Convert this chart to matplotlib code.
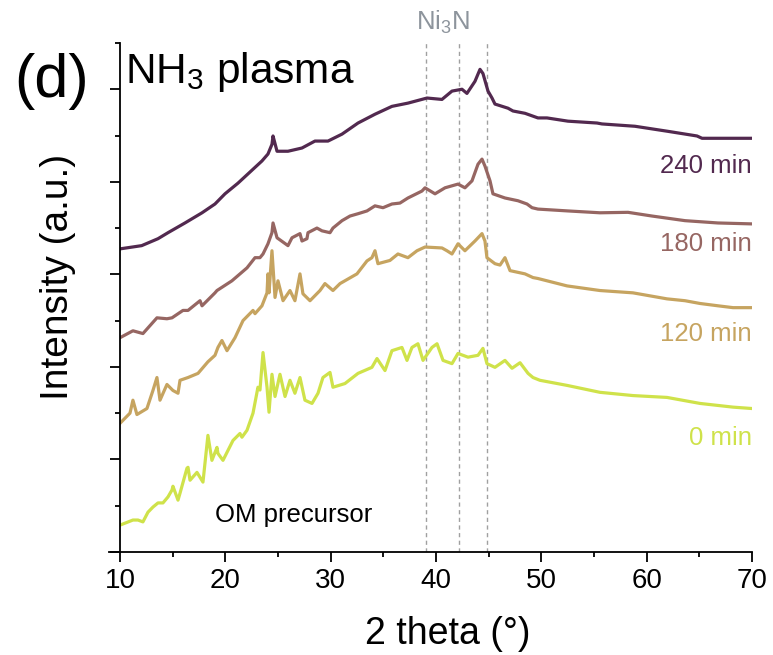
import numpy as np
import matplotlib
matplotlib.use("Agg")
import matplotlib.pyplot as plt
from matplotlib.ticker import MultipleLocator

plt.rcParams["font.family"] = ["Liberation Sans", "DejaVu Sans"]
plt.rcParams["mathtext.fontset"] = "custom"
plt.rcParams["mathtext.rm"] = "Liberation Sans"

# ── data (2 theta in deg, stacked intensity in a.u.) ──
theta_240 = [10.0, 12.06, 13.61, 14.56, 16.17, 17.79, 19.02, 19.97, 21.20, 22.15,
             23.48, 24.05, 24.43, 24.53, 24.91, 25.95, 27.28, 28.51, 29.75, 31.08,
             32.60, 34.21, 35.82, 37.34, 39.15, 40.57, 41.52, 42.47, 42.94, 43.70,
             44.18, 44.46, 44.94, 45.32, 45.60, 46.84, 47.31, 48.45, 49.68, 50.54,
             52.53, 55.29, 55.76, 58.89, 60.03, 62.03, 64.78, 65.26, 68.39, 70.0]
int_240 = [65.5, 66.2, 67.7, 69.0, 71.1, 73.3, 75.2, 77.4, 79.7, 81.7,
           84.5, 86.0, 88.1, 89.9, 86.6, 86.6, 87.3, 88.8, 88.8, 90.3,
           92.7, 94.6, 96.3, 97.0, 98.1, 97.8, 99.6, 100.0, 99.1, 101.7,
           104.3, 103.4, 99.6, 98.1, 96.8, 95.9, 95.3, 94.8, 93.8, 93.8,
           93.1, 92.7, 92.5, 92.0, 91.6, 90.9, 89.9, 89.4, 89.4, 89.4]

theta_180 = [10.0, 11.23, 12.18, 13.51, 14.46, 14.94, 15.98, 16.46, 17.60, 17.79,
             19.02, 19.21, 20.63, 22.06, 22.82, 23.29, 23.58, 24.05, 24.43, 24.53,
             24.91, 25.95, 26.33, 27.09, 27.28, 27.75, 27.85, 28.70, 29.18, 29.94,
             30.22, 31.08, 31.84, 32.60, 33.45, 34.21, 34.97, 35.82, 36.58, 37.34,
             38.67, 38.96, 39.91, 40.86, 42.09, 42.75, 43.42, 43.99, 44.37, 44.65,
             45.13, 45.41, 46.55, 47.79, 48.64, 49.12, 49.68, 52.53, 55.57, 58.23,
             60.51, 63.64, 66.77, 70.0]
int_180 = [46.3, 47.8, 47.2, 50.6, 50.4, 50.6, 52.2, 52.2, 54.3, 53.2,
           56.0, 56.5, 58.6, 61.4, 63.6, 63.6, 64.4, 66.6, 69.0, 71.1,
           67.9, 66.2, 67.9, 68.8, 67.2, 67.7, 69.0, 70.0, 69.4, 69.0,
           70.0, 71.6, 72.6, 73.1, 73.7, 74.8, 74.4, 75.2, 75.4, 76.5,
           78.0, 78.7, 77.4, 78.7, 79.5, 78.7, 80.2, 83.8, 84.9, 83.4,
           80.2, 77.4, 76.5, 75.9, 75.2, 74.4, 74.1, 73.7, 73.3, 73.4,
           72.6, 71.6, 71.1, 70.9]

theta_120 = [10.0, 10.95, 11.23, 11.61, 12.56, 13.13, 13.51, 13.80, 14.46, 15.03,
             15.51, 15.70, 16.46, 17.41, 18.35, 19.02, 19.30, 19.68, 20.16, 20.92,
             21.68, 22.63, 22.82, 23.48, 23.96, 24.05, 24.15, 24.43, 24.72, 25.00,
             25.48, 26.14, 26.61, 27.09, 27.37, 28.04, 28.99, 29.46, 30.22, 30.89,
             32.50, 33.45, 33.92, 34.21, 34.49, 35.63, 36.39, 37.34, 38.20, 38.96,
             40.57, 41.04, 41.52, 42.09, 42.75, 43.70, 44.37, 44.65, 44.84, 45.60,
             46.08, 46.55, 47.03, 48.45, 49.21, 49.68, 52.44, 55.57, 58.70, 61.93,
             63.64, 65.07, 66.77, 68.20, 70.0]
int_120 = [27.8, 30.0, 32.8, 29.7, 31.0, 34.9, 37.7, 32.8, 36.2, 34.9,
           34.3, 37.1, 37.7, 38.6, 41.1, 42.5, 44.2, 45.7, 43.5, 46.3,
           50.0, 52.2, 51.5, 53.2, 56.0, 60.1, 56.0, 65.1, 55.0, 58.6,
           54.3, 56.5, 54.3, 60.1, 55.8, 54.3, 56.5, 58.0, 56.5, 58.0,
           60.1, 62.9, 63.6, 65.1, 62.3, 63.0, 64.4, 63.6, 65.1, 65.9,
           65.7, 65.1, 64.4, 66.6, 65.1, 67.2, 68.8, 67.2, 63.6, 62.3,
           62.0, 63.6, 60.8, 60.1, 59.3, 59.1, 57.5, 56.5, 56.0, 54.7,
           54.3, 53.7, 53.2, 52.8, 52.8]

theta_0 = [10.0, 11.23, 11.71, 12.18, 12.66, 13.13, 13.61, 14.08, 14.56, 14.94,
           15.03, 15.51, 15.70, 16.36, 16.46, 16.65, 17.31, 17.88, 18.35, 18.73,
           19.21, 19.30, 19.78, 20.73, 21.39, 21.58, 22.06, 22.63, 23.10, 23.29,
           23.58, 23.96, 24.15, 24.43, 24.72, 25.19, 25.67, 26.14, 26.61, 27.09,
           27.56, 28.23, 28.80, 29.27, 29.94, 30.22, 31.36, 32.60, 33.92, 34.40,
           35.16, 35.82, 36.77, 37.25, 37.72, 38.29, 38.77, 39.62, 40.10, 40.67,
           41.52, 42.09, 43.04, 43.99, 44.46, 44.84, 45.60, 46.55, 47.22, 47.98,
           48.74, 49.21, 49.87, 52.44, 55.57, 58.70, 61.93, 65.07, 68.20, 70.0]
int_0 = [5.8, 6.9, 6.9, 6.5, 8.6, 9.7, 10.6, 10.6, 11.9, 13.4,
         14.2, 11.2, 12.7, 18.1, 18.3, 15.5, 17.2, 15.1, 25.2, 19.8,
         22.6, 21.3, 19.8, 24.1, 25.6, 24.8, 26.3, 30.0, 35.6, 35.0,
         43.1, 35.6, 30.2, 38.4, 33.6, 38.4, 33.6, 37.1, 34.3, 37.7,
         32.8, 32.1, 34.3, 37.7, 38.8, 35.6, 36.4, 38.6, 39.9, 41.8,
         39.2, 43.5, 44.2, 41.4, 44.2, 45.0, 41.4, 44.2, 45.0, 41.4,
         40.7, 42.9, 42.1, 42.5, 44.0, 40.7, 39.9, 41.4, 39.7, 40.9,
         38.6, 37.7, 37.1, 36.0, 34.5, 33.8, 33.4, 32.1, 31.3, 31.0]

series = [
    ("240 min", theta_240, int_240, "#52294f", 83.4),
    ("180 min", theta_180, int_180, "#966662", 66.6),
    ("120 min", theta_120, int_120, "#c6a460", 47.2),
    ("0 min", theta_0, int_0, "#cfe24a", 24.6),
]
ni3n_peaks = [39.1, 42.2, 44.8]

fig = plt.figure(figsize=(7.73, 6.55), dpi=100)
ax = fig.add_axes([0.1552, 0.1573, 0.8176, 0.7771])

for pk in ni3n_peaks:
    ax.axvline(pk, color="#a0a0a0", lw=1.0, ls=(0, (3, 2.5)), zorder=1)

for label, th, inten, col, ylab in series:
    ax.plot(th, inten, color=col, lw=2.3, zorder=2)
    ax.text(70, ylab, label, color=col, fontsize=18.5, ha="right", va="center")

ax.text(19.0, 8.0, "OM precursor", fontsize=18.5, ha="left", va="center")
ax.text(40.7, 114.5, "Ni$_3$N", color="#8d949c", fontsize=18.5,
        ha="center", va="center", clip_on=False)

ax.set_xlim(10, 70)
ax.set_ylim(0, 110)
ax.xaxis.set_major_locator(MultipleLocator(10))
ax.xaxis.set_minor_locator(MultipleLocator(5))
ax.yaxis.set_major_locator(MultipleLocator(20))
ax.set_yticks(np.arange(10, 111, 20), minor=True)
ax.set_yticklabels([])

for side in ("top", "right"):
    ax.spines[side].set_visible(False)
for side in ("left", "bottom"):
    ax.spines[side].set_linewidth(1.3)
ax.spines["bottom"].set_bounds(8.95, 70)

ax.tick_params(which="major", direction="out", length=7.5, width=1.3,
               labelsize=20, pad=4)
ax.tick_params(which="minor", direction="out", length=3.8, width=1.3)

ax.set_xlabel("2 theta (°)", fontsize=27)
ax.xaxis.set_label_coords(0.519, -0.125)
ax.set_ylabel("Intensity (a.u.)", fontsize=28)
ax.yaxis.set_label_coords(-0.07, 0.54)

fig.text(0.019, 0.852, "(d)", fontsize=44, ha="left", va="baseline")
fig.text(0.162, 0.873, "NH$_3$ plasma", fontsize=30.5, ha="left", va="baseline")

fig.savefig("out.png", dpi=100)
